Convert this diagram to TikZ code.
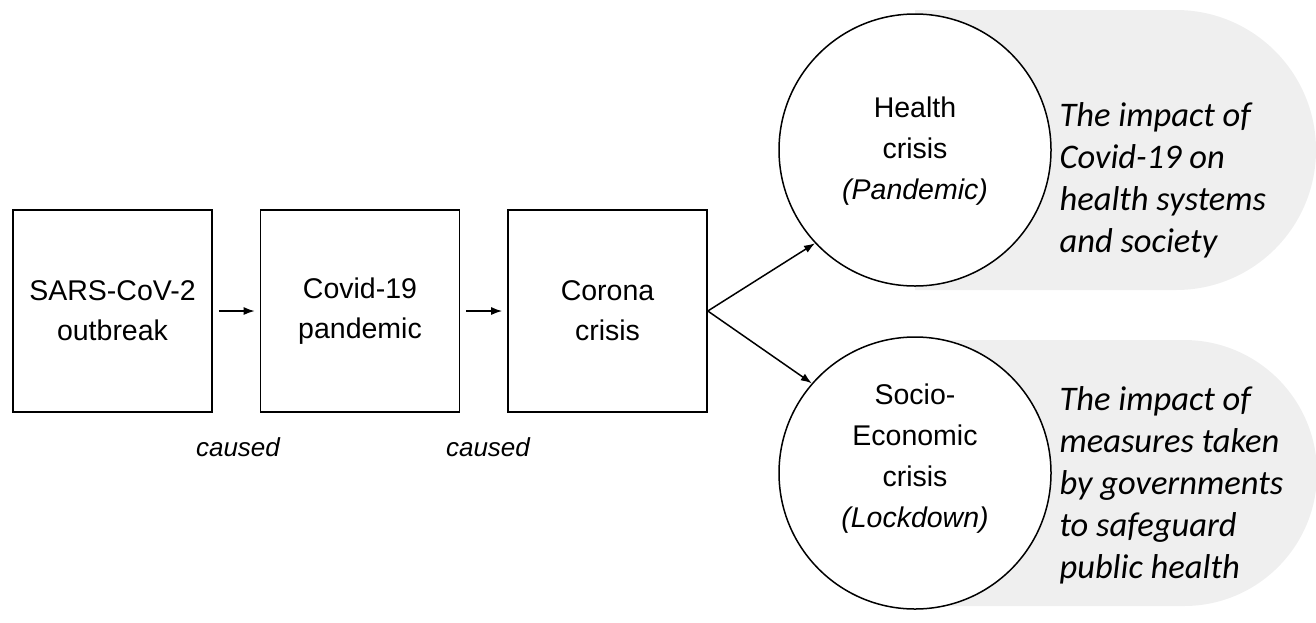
\documentclass[tikz,border=0pt]{standalone}
\usepackage{fontspec}
\setmainfont{Liberation Sans}
\newfontfamily\notefont{Carlito}
\usetikzlibrary{arrows.meta}
\definecolor{notegrey}{HTML}{EFEFEF}
\tikzset{
  stepbox/.style={draw, line width=1.6pt, minimum width=199pt, minimum height=202pt,
    align=center, font=\fontsize{28.5}{40}\selectfont},
  crisis/.style={circle, draw, line width=1.5pt, fill=white, minimum size=272pt,
    inner sep=0pt},
  crisistext/.style={align=center, font=\fontsize{28.5}{41}\selectfont},
  note/.style={anchor=west, align=left, font=\notefont\itshape\fontsize{34.5}{42}\selectfont},
  causelbl/.style={font=\itshape\fontsize{26}{30}\selectfont},
  flow/.style={-{Latex[length=11pt,width=8pt]}, line width=1.5pt},
  notebg/.style={fill=notegrey}
}
\begin{document}
\begin{tikzpicture}[x=1pt,y=-1pt]
\useasboundingbox (0,0) rectangle (1316,622);

% grey callout bands behind the two crises
\fill[notebg] (915,10) -- (1176,10) arc[start angle=90, end angle=-90, radius=140pt] -- (915,290) -- cycle;
\fill[notebg] (915,340) -- (1184,340) arc[start angle=90, end angle=-90, radius=133pt] -- (915,606) -- cycle;

% causal chain
\node[stepbox] (sars) at (112.5,311) {SARS-CoV-2\\outbreak};
\node[stepbox] (covid) at (360,311) {Covid-19\\pandemic};
\node[stepbox] (corona) at (607.5,311) {Corona\\crisis};

\node[causelbl] (c1) at (238,447) {caused};
\node[causelbl] (c2) at (488,447) {caused};

% the two crises
\node[crisis] (health) at (915,150) {};
\node[crisistext] (healthtext) at (915,151) {Health\\crisis\\\textit{(Pandemic)}};
\node[crisis] (socio) at (915,473) {};
\node[crisistext] (sociotext) at (915,459) {Socio-\\Economic\\crisis\\\textit{(Lockdown)}};

\node[note] (hnote) at (1056,180) {The impact of\\Covid-19 on\\health systems\\and society};
\node[note] (snote) at (1056,485) {The impact of\\measures taken\\by governments\\to safeguard\\public health};

% connectors
\draw[flow, shorten <=6pt, shorten >=5pt] (sars) -- (covid);
\draw[flow, shorten <=6pt, shorten >=5pt] (covid) -- (corona);
\draw[flow] (corona.east) -- (health.223);
\draw[flow] (corona.east) -- (socio.139);
\end{tikzpicture}
\end{document}
